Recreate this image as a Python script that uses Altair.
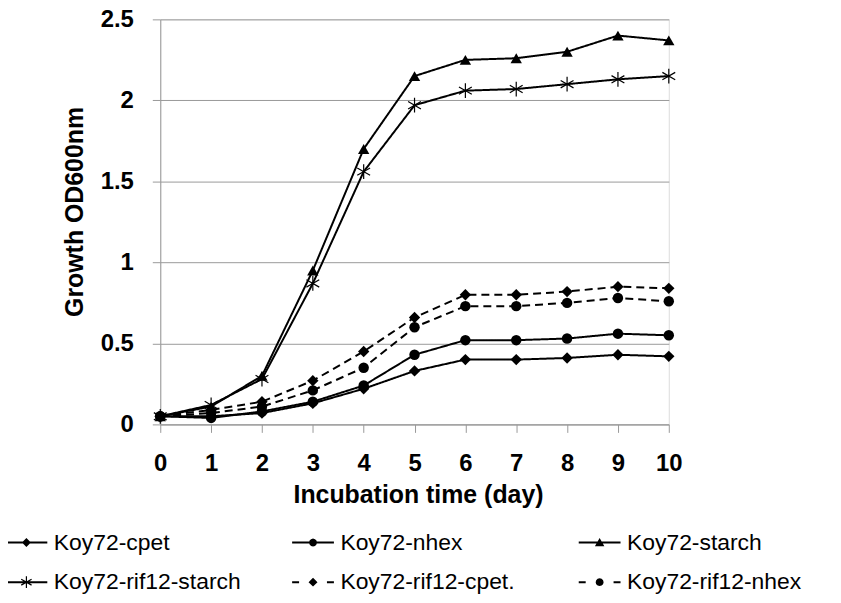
import altair as alt
import pandas as pd

days = [0, 1, 2, 3, 4, 5, 6, 7, 8, 9, 10]
series_names = ["Koy72-cpet", "Koy72-nhex", "Koy72-starch",
                "Koy72-rif12-starch", "Koy72-rif12-cpet.", "Koy72-rif12-nhex"]
cpet = [0.05, 0.05, 0.07, 0.13, 0.22, 0.33, 0.40, 0.40, 0.41, 0.43, 0.42]
nhex = [0.05, 0.04, 0.08, 0.14, 0.24, 0.43, 0.52, 0.52, 0.53, 0.56, 0.55]
starch = [0.05, 0.11, 0.30, 0.95, 1.70, 2.15, 2.25, 2.26, 2.30, 2.40, 2.37]
rif12_starch = [0.05, 0.12, 0.28, 0.87, 1.56, 1.97, 2.06, 2.07, 2.10, 2.13, 2.15]
rif12_cpet = [0.05, 0.09, 0.14, 0.27, 0.45, 0.66, 0.80, 0.80, 0.82, 0.85, 0.84]
rif12_nhex = [0.05, 0.07, 0.11, 0.21, 0.35, 0.60, 0.73, 0.73, 0.75, 0.78, 0.76]
y_ticks = [0, 0.5, 1, 1.5, 2, 2.5]

values = [cpet, nhex, starch, rif12_starch, rif12_cpet, rif12_nhex]
rows = []
for name, vals in zip(series_names, values):
    for d, v in zip(days, vals):
        rows.append({"series": name, "day": d, "od": v})
df = pd.DataFrame(rows)

FONT = "Liberation Sans"
ASTER = "M0,-1V1M-0.87,-0.5L0.87,0.5M-0.87,0.5L0.87,-0.5"
marker_shapes = ["diamond", "circle", "triangle-up", ASTER, "diamond", "circle"]
marker_sizes = [130, 110, 130, 220, 130, 110]
dashes = [[1, 0], [1, 0], [1, 0], [1, 0], [8, 5], [8, 5]]

# legend glyphs (filled outlines only, so they render with fill alone)
LINE = "M-4.2,-0.2H4.2V0.2H-4.2Z"
DASH = "M-4.2,-0.2H-2.8V0.2H-4.2ZM2.8,-0.2H4.2V0.2H2.8Z"
DIA = "M0,-0.9L0.9,0L0,0.9L-0.9,0Z"
CIR = "M0.8,0L0.69,0.4L0.4,0.69L0,0.8L-0.4,0.69L-0.69,0.4L-0.8,0L-0.69,-0.4L-0.4,-0.69L0,-0.8L0.4,-0.69L0.69,-0.4Z"
TRI = "M0,-0.9L0.95,0.75L-0.95,0.75Z"
AST = ("M-0.12,-1.2H0.12V1.2H-0.12Z"
       "M-0.979,-0.704L1.099,0.496L0.979,0.704L-1.099,-0.496Z"
       "M-1.099,0.496L0.979,-0.704L1.099,-0.496L-0.979,0.704Z")
legend_shapes = [LINE + DIA, LINE + CIR, LINE + TRI, LINE + AST, DASH + DIA, DASH + CIR]

# legend fills column by column: order entries so rows read as in the reference
legend_order = [0, 3, 1, 4, 2, 5]
legend_domain = [series_names[i] for i in legend_order]
legend_range = [legend_shapes[i] for i in legend_order]

x_enc = alt.X("day:Q", scale=alt.Scale(domain=[0, 10], nice=False, zero=False),
              axis=alt.Axis(values=days, title="Incubation time (day)", grid=False,
                            format="d", labelFontSize=24, labelFontWeight="bold",
                            labelColor="black", labelPadding=19, tickSize=8,
                            labelFlush=False,
                            tickColor="#999999", domainColor="#999999",
                            titleFontSize=25, titleFontWeight="bold", titleColor="black",
                            titleX=259, titleY=70, titleBaseline="middle",
                            labelFont=FONT, titleFont=FONT))
y_enc = alt.Y("od:Q", scale=alt.Scale(domain=[0, 2.5], nice=False),
              axis=alt.Axis(values=y_ticks, title="Growth OD600nm", grid=True,
                            format="~g",
                            gridColor="#999999", labelFontSize=24, labelFontWeight="bold",
                            labelColor="black", labelPadding=19, tickSize=8,
                            tickColor="#999999", domainColor="#999999",
                            titleFontSize=25, titleFontWeight="bold", titleColor="black",
                            titleX=-86, titleY=193, titleBaseline="middle",
                            titleAngle=-90, titleAlign="center",
                            labelFont=FONT, titleFont=FONT))

lines = alt.Chart(df).mark_line(color="black", strokeWidth=2).encode(
    x=x_enc, y=y_enc,
    detail="series:N",
    strokeDash=alt.StrokeDash("series:N", scale=alt.Scale(domain=series_names, range=dashes),
                              legend=None),
)

point_layers = []
for name, shp, sz in zip(series_names, marker_shapes, marker_sizes):
    is_aster = shp == ASTER
    point_layers.append(
        alt.Chart(df).transform_filter(alt.datum.series == name).mark_point(
            shape=shp, size=sz, filled=not is_aster, color="black", opacity=1,
            strokeWidth=1.2 if is_aster else 1,
        ).encode(x="day:Q", y="od:Q")
    )

legend_layer = alt.Chart(df).transform_filter("false").mark_point(
    filled=False, color="black", fill="black", size=100, strokeWidth=1.5, opacity=1
).encode(
    x="day:Q", y="od:Q",
    shape=alt.Shape("series:N",
                    scale=alt.Scale(domain=legend_domain, range=legend_range),
                    legend=alt.Legend(title=None, orient="none", legendX=-153, legendY=514,
                                      columns=3, gridAlign="all", columnPadding=48,
                                      rowPadding=16, symbolOffset=7, labelOffset=16,
                                      symbolSize=100, symbolStrokeWidth=1.5,
                                      symbolStrokeColor="black", symbolFillColor="black",
                                      labelFontSize=23, labelFont=FONT, labelColor="black",
                                      labelLimit=400)),
)

chart = alt.layer(lines, *point_layers, legend_layer).properties(
    width=511, height=407,
    autosize=alt.AutoSizeParams(type="none"),
    padding={"left": 153, "top": 10, "right": 165, "bottom": 170},
).configure_view(stroke=None).configure(font=FONT)

chart.save("out.html", embed_options={"renderer": "svg", "actions": False})
